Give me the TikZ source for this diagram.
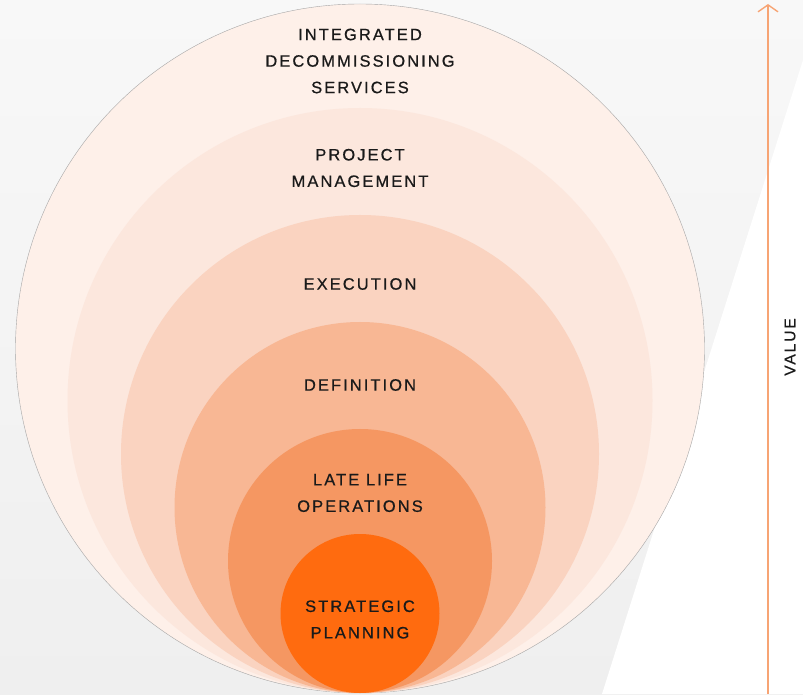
\documentclass[tikz,border=0pt]{standalone}
\usepackage{fontspec}
\setmainfont{Liberation Sans}[LetterSpace=12.5,FakeBold=0.6]
\usetikzlibrary{arrows.meta}
\definecolor{bgtop}{HTML}{F8F8F8}
\definecolor{bgbot}{HTML}{EFEFEF}
\definecolor{cA}{HTML}{FEF0E9}
\definecolor{cB}{HTML}{FCE7DD}
\definecolor{cC}{HTML}{FAD3C0}
\definecolor{cD}{HTML}{F8B794}
\definecolor{cE}{HTML}{F59762}
\definecolor{cF}{HTML}{FF6B0F}
\definecolor{arrowc}{HTML}{F7A474}
\definecolor{txt}{HTML}{1A1A1A}
\begin{document}
\begin{tikzpicture}[x=1pt,y=1pt,
  lbl/.style={font=\fontsize{16.5}{26.5}\selectfont, align=center, text=txt, inner sep=0pt}]
\useasboundingbox (0,0) rectangle (803,694);
\shade[top color=bgtop, bottom color=bgbot] (0,0) rectangle (803,694);
\fill[white] (803,634) -- (602,0) -- (803,0) -- cycle;
% nested circles, all tangent at the bottom
\fill[cA] (360,345.5) circle[radius=344.5];
\draw[gray!70, line width=0.4pt] (360,345.5) circle[radius=344.5];
\fill[cB] (360,293.5) circle[radius=292.5];
\fill[cC] (360,240) circle[radius=239];
\fill[cD] (360,186.5) circle[radius=185.5];
\fill[cE] (360,133) circle[radius=132];
\fill[cF] (360,80.5) circle[radius=79.5];
% labels
\node[lbl] (ids) at (360,633) {INTEGRATED\\DECOMMISSIONING\\SERVICES};
\node[lbl] (pm) at (360,526) {PROJECT\\MANAGEMENT};
\node[lbl] (ex) at (360,410) {EXECUTION};
\node[lbl] (df) at (360,309) {DEFINITION};
\node[lbl] (ll) at (360,201) {LATE LIFE\\OPERATIONS};
\node[lbl] (sp) at (360,74.5) {STRATEGIC\\PLANNING};
% value axis
\coordinate (vbot) at (768,0);
\coordinate (vtop) at (768,690);
\draw[arrowc, line width=1.8pt, -{Straight Barb[length=7pt,width=20pt,line width=1.4pt]}] (vbot) -- (vtop);
\node[lbl, font=\fontsize{15.5}{18}\selectfont, rotate=90] (val) at (790,347) {VALUE};
\end{tikzpicture}
\end{document}
